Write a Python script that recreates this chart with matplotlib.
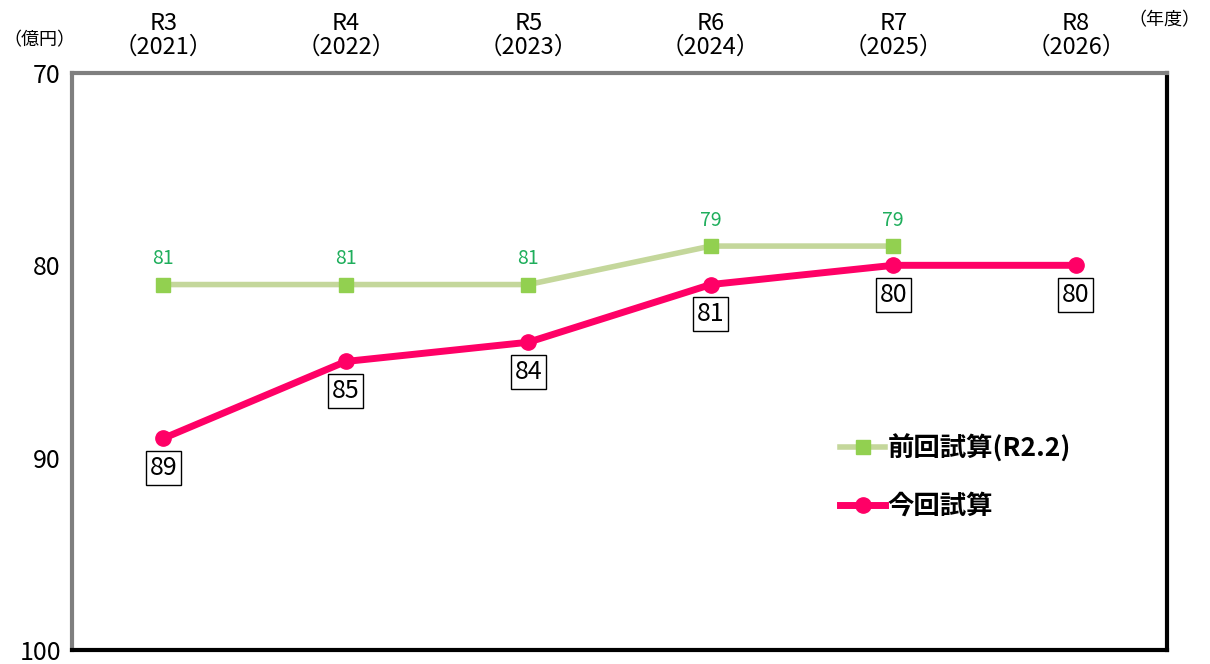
import numpy as np
import matplotlib
matplotlib.use("Agg")
import matplotlib.pyplot as plt

plt.rcParams['font.family'] = ['Noto Sans CJK JP', 'DejaVu Sans']

# data
years = ['R3\n（2021）', 'R4\n（2022）', 'R5\n（2023）', 'R6\n（2024）', 'R7\n（2025）', 'R8\n（2026）']
prev_vals = [81, 81, 81, 79, 79]          # 前回試算(R2.2)
curr_vals = [89, 85, 84, 81, 80, 80]      # 今回試算
prev_name = '前回試算(R2.2)'
curr_name = '今回試算'

fig = plt.figure(figsize=(12.1, 6.64), dpi=100)
ax = fig.add_axes([0.0595, 0.0211, 0.9050, 0.8690])

x = np.arange(len(years)) + 0.5
xp = x[:len(prev_vals)]

ax.plot(xp, prev_vals, color='#c4d79b', lw=4, marker='s', ms=10,
        mfc='#92d050', mec='#92d050', label=prev_name, zorder=3)
ax.plot(x, curr_vals, color='#ff0066', lw=5, marker='o', ms=11,
        mfc='#ff0066', mec='#ff0066', label=curr_name, zorder=4)

# data labels
for xi, v in zip(xp, prev_vals):
    ax.annotate(str(v), (xi, v), xytext=(0, 11), textcoords='offset points',
                ha='center', va='bottom', fontsize=14, color='#1fae5c')
for xi, v in zip(x, curr_vals):
    ax.annotate(str(v), (xi, v), xytext=(0, -12), textcoords='offset points',
                ha='center', va='top', fontsize=18, color='black',
                bbox=dict(boxstyle='square,pad=0.15', fc='white', ec='black', lw=1))

ax.set_xlim(0, len(years))
ax.set_ylim(100, 70)
ax.set_yticks([70, 80, 90, 100])
ax.set_yticklabels(['70', '80', '90', '100'], fontsize=18)
ax.set_xticks(x)
ax.set_xticklabels(years, fontsize=17, linespacing=1.05)
ax.xaxis.tick_top()
ax.tick_params(axis='y', length=0, pad=8)
ax.tick_params(axis='x', length=0, pad=10)

# frame: grey top/left, black right/bottom
for s in ['top', 'left']:
    ax.spines[s].set_color('#7f7f7f')
    ax.spines[s].set_linewidth(3)
for s in ['right', 'bottom']:
    ax.spines[s].set_color('black')
    ax.spines[s].set_linewidth(3)

fig.text(0.033, 0.94, '（億円）', fontsize=13, ha='center', va='center')
fig.text(0.962, 0.97, '（年度）', fontsize=13, ha='center', va='center')

leg = ax.legend(loc='upper left', bbox_to_anchor=(0.68, 0.415), frameon=False,
                handlelength=1.7, handletextpad=0.1,
                labelspacing=1.15, prop={'size': 19, 'weight': 'bold'})

fig.savefig('out.png', dpi=100)
